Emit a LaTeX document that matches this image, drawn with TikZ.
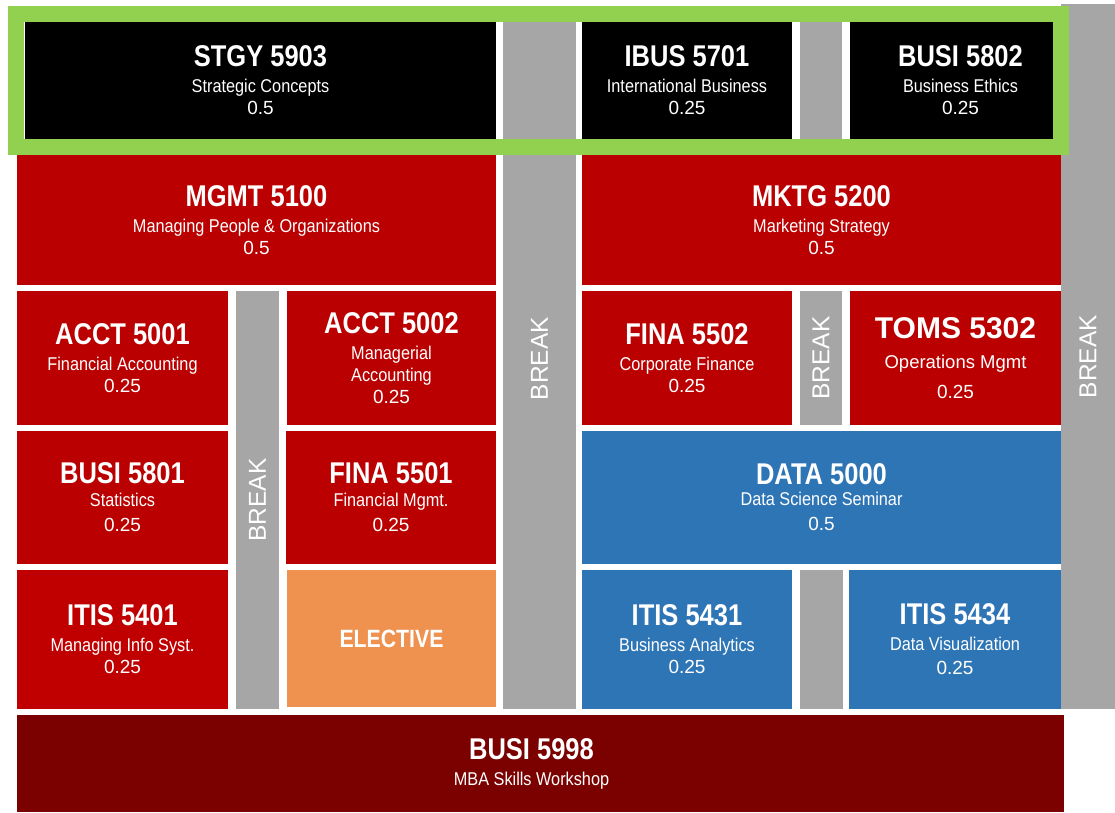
\documentclass[tikz,border=0pt]{standalone}
\usepackage{fontspec}
\setmainfont{Liberation Sans}
\newfontfamily\narrowbold[FakeStretch=0.85]{Liberation Sans}
\newfontfamily\narrowtext[FakeStretch=0.88]{Liberation Sans}
\definecolor{courseRed}{HTML}{BA0000}
\definecolor{brightRed}{HTML}{C00000}
\definecolor{dataBlue}{HTML}{2E75B6}
\definecolor{electOrange}{HTML}{EF914F}
\definecolor{capRed}{HTML}{7B0000}
\definecolor{breakGrey}{HTML}{A6A6A6}
\definecolor{coreGreen}{HTML}{92D050}
\newcommand{\ccode}[1]{{\narrowbold\bfseries\fontsize{30}{30}\selectfont #1}}
\newcommand{\cname}[1]{{\narrowtext\fontsize{18.5}{22}\selectfont #1}}
\newcommand{\cnum}[1]{{\fontsize{19}{22}\selectfont #1}}
\tikzstyle{course}=[rectangle,
                    inner sep=0pt,
                    text=white,
                    align=center,
                    font=\fontsize{18.5}{22}\selectfont]
\tikzstyle{brk}=[rectangle,
                 inner sep=0pt,
                 fill=breakGrey,
                 text=white,
                 font=\fontsize{24.5}{26}\selectfont]

\begin{document}
\begin{tikzpicture}[x=1pt,y=-1pt]
    \useasboundingbox[fill=white] (0,0) rectangle (1115,812);
    % break columns
    \node[brk, rotate=90, minimum width=701pt, minimum height=73pt] (breakmain) at (539.5,358.5) {BREAK};
    \node[brk, rotate=90, minimum width=705pt, minimum height=54pt] (breakright) at (1088,356.5) {BREAK};
    \node[brk, rotate=90, minimum width=418pt, minimum height=43pt] (breakleft) at (257.5,500) {BREAK};
    \node[brk, rotate=90, minimum width=134pt, minimum height=42pt] (breakmid) at (821,358) {BREAK};
    \node[brk, minimum width=42pt, minimum height=117pt] (gaptop) at (821,80.5) {};
    \node[brk, minimum width=43pt, minimum height=139pt] (gapbottom) at (821.5,639.5) {};
    % core courses
    \node[course, fill=black, minimum width=471pt, minimum height=117pt] (stgy) at (260.5,80.5) {\ccode{STGY 5903}\\[4pt]\cname{Strategic Concepts}\\\cnum{0.5}};
    \node[course, fill=black, minimum width=210pt, minimum height=117pt] (ibus) at (687,80.5) {\ccode{IBUS 5701}\\[4pt]\cname{International Business}\\\cnum{0.25}};
    \node[course, fill=black, minimum width=203pt, minimum height=117pt] (ethics) at (951.5,80.5) {\hspace*{18pt}\ccode{BUSI 5802}\\[4pt]\hspace*{18pt}\cname{Business Ethics}\\\hspace*{18pt}\cnum{0.25}};
    % first block
    \node[course, fill=courseRed, minimum width=479pt, minimum height=130pt] (mgmt) at (256.5,220) {\ccode{MGMT 5100}\\[4pt]\cname{Managing People \& Organizations}\\\cnum{0.5}};
    \node[course, fill=courseRed, minimum width=211pt, minimum height=134pt] (finacct) at (122.5,358) {\ccode{ACCT 5001}\\[4pt]\cname{Financial Accounting}\\\cnum{0.25}};
    \node[course, fill=courseRed, minimum width=209pt, minimum height=134pt] (mgracct) at (391.5,358) {\ccode{ACCT 5002}\\[4pt]\cname{Managerial}\\\cname{Accounting}\\\cnum{0.25}};
    \node[course, fill=courseRed, minimum width=211pt, minimum height=133pt] (stats) at (122.5,497.5) {\ccode{BUSI 5801}\\[1pt]\cname{Statistics}\\[3pt]\cnum{0.25}};
    \node[course, fill=courseRed, minimum width=210pt, minimum height=133pt] (finmgmt) at (391,497.5) {\ccode{FINA 5501}\\[1pt]\cname{Financial Mgmt.}\\[3pt]\cnum{0.25}};
    \node[course, fill=brightRed, minimum width=211pt, minimum height=139pt] (infosys) at (122.5,639.5) {\ccode{ITIS 5401}\\[4pt]\cname{Managing Info Syst.}\\\cnum{0.25}};
    \node[course, fill=electOrange, minimum width=209pt, minimum height=137pt] (elective) at (391.5,638.5) {{\narrowbold\bfseries\fontsize{25}{25}\selectfont ELECTIVE}};
    % second block
    \node[course, fill=courseRed, minimum width=479pt, minimum height=130pt] (mktg) at (821.5,220) {\ccode{MKTG 5200}\\[4pt]\cname{Marketing Strategy}\\\cnum{0.5}};
    \node[course, fill=courseRed, minimum width=210pt, minimum height=134pt] (corpfin) at (687,358) {\ccode{FINA 5502}\\[4pt]\cname{Corporate Finance}\\\cnum{0.25}};
    \node[course, fill=courseRed, minimum width=211pt, minimum height=134pt] (toms) at (955.5,358) {{\bfseries\fontsize{30}{30}\selectfont TOMS 5302}\\[8pt]{\fontsize{18.5}{22}\selectfont Operations Mgmt}\\[8pt]\cnum{0.25}};
    \node[course, fill=dataBlue, minimum width=479pt, minimum height=133pt] (data) at (821.5,497.5) {\ccode{DATA 5000}\\[-1pt]\cname{Data Science Seminar}\\[3pt]\cnum{0.5}};
    \node[course, fill=dataBlue, minimum width=210pt, minimum height=139pt] (analytics) at (687,639.5) {\ccode{ITIS 5431}\\[4pt]\cname{Business Analytics}\\\cnum{0.25}};
    \node[course, fill=dataBlue, minimum width=212pt, minimum height=139pt] (dataviz) at (955,639.5) {\ccode{ITIS 5434}\\[4pt]\cname{Data Visualization}\\[2pt]\cnum{0.25}};
    % capstone
    \node[course, fill=capRed, minimum width=1047pt, minimum height=97pt] (capstone) at (540.5,763.5) {\ccode{BUSI 5998}\hspace*{18pt}\\[4pt]\cname{MBA Skills Workshop}\hspace*{18pt}};
    % frame round the first term
    \node[draw=coreGreen, line width=16pt, inner sep=0pt, minimum width=1044.5pt, minimum height=133.5pt] (core) at (538.25,80.25) {};
\end{tikzpicture}
\end{document}
